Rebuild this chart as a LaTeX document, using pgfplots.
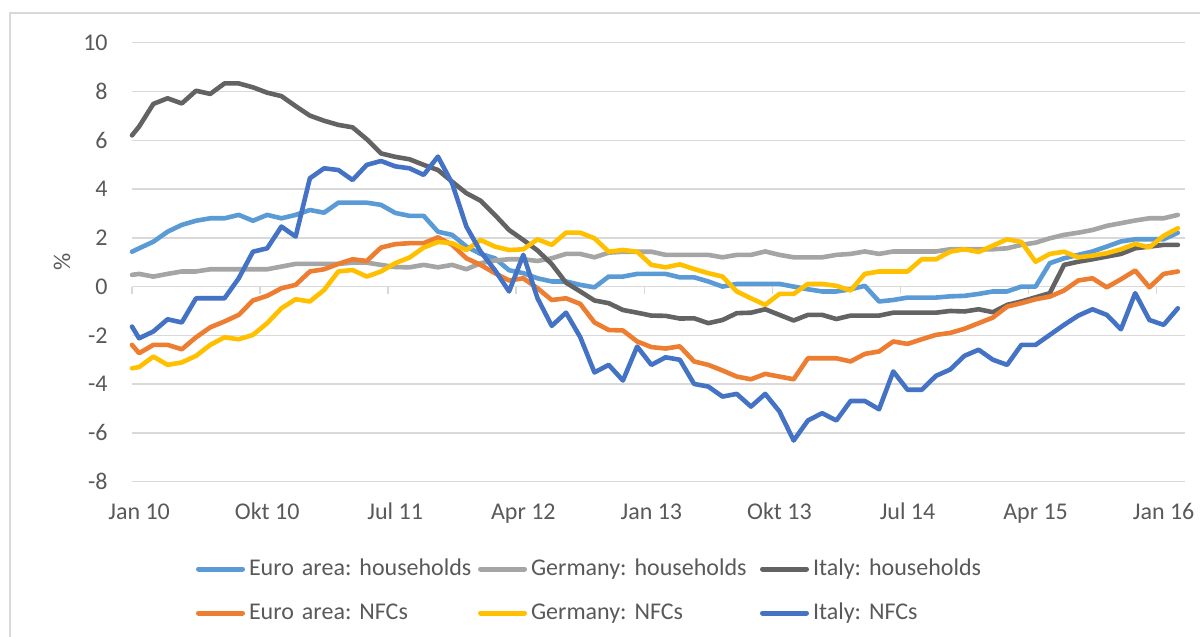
\documentclass[border=0pt]{standalone}
\usepackage{fontspec}
\setmainfont{Carlito}
\usepackage{pgfplots}
\usepackage{pgfplotstable}
\pgfplotsset{compat=1.18}
\definecolor{eah}{HTML}{5B9BD5}
\definecolor{deh}{HTML}{A5A5A5}
\definecolor{ith}{HTML}{636363}
\definecolor{ean}{HTML}{ED7D31}
\definecolor{den}{HTML}{FFC000}
\definecolor{itn}{HTML}{4472C4}
\definecolor{gridc}{HTML}{D9D9D9}
\definecolor{txt}{HTML}{595959}
\hyphenpenalty=10000
\frenchspacing

\pgfplotstableread{
x eah deh ith ean den itn
0 1.43 0.48 6.20 -2.39 -3.35 -1.64
0.5 1.57 0.52 6.56 -2.73 -3.30 -2.12
1.5 1.84 0.41 7.49 -2.39 -2.87 -1.84
2.5 2.25 0.52 7.72 -2.39 -3.21 -1.34
3.5 2.53 0.62 7.51 -2.57 -3.11 -1.47
4.5 2.70 0.62 8.03 -2.08 -2.84 -0.48
5.5 2.80 0.71 7.90 -1.67 -2.39 -0.48
6.5 2.80 0.71 8.33 -1.43 -2.08 -0.48
7.5 2.94 0.71 8.33 -1.16 -2.16 0.34
8.5 2.70 0.71 8.17 -0.57 -1.98 1.43
9.5 2.94 0.71 7.95 -0.38 -1.50 1.57
10.5 2.80 0.82 7.81 -0.07 -0.89 2.46
11.5 2.94 0.93 7.40 0.07 -0.52 2.05
12.5 3.14 0.93 7.01 0.62 -0.61 4.44
13.5 3.03 0.93 6.80 0.71 -0.14 4.85
14.5 3.44 0.93 6.63 0.93 0.62 4.78
15.5 3.44 0.98 6.53 1.12 0.68 4.37
16.5 3.44 0.98 6.04 1.05 0.41 4.99
17.5 3.35 0.89 5.46 1.60 0.62 5.15
18.5 3.02 0.80 5.32 1.74 0.96 4.93
19.5 2.90 0.79 5.22 1.78 1.19 4.85
20.5 2.90 0.89 4.99 1.78 1.60 4.58
21.5 2.25 0.79 4.78 2.02 1.83 5.33
22.5 2.12 0.89 4.30 1.71 1.78 4.23
23.5 1.64 0.71 3.83 1.16 1.50 2.46
24.5 1.34 0.96 3.52 0.89 1.91 1.43
25.5 1.16 1.07 2.94 0.55 1.64 0.68
26.5 0.67 1.12 2.32 0.25 1.50 -0.20
27.5 0.55 1.12 1.91 0.34 1.53 1.30
28.5 0.34 1.05 1.48 -0.07 1.94 -0.48
29.5 0.21 1.16 0.92 -0.55 1.71 -1.61
30.5 0.21 1.34 0.16 -0.48 2.21 -1.07
31.5 0.07 1.34 -0.20 -0.71 2.21 -2.07
32.5 -0.03 1.20 -0.57 -1.47 1.98 -3.52
33.5 0.41 1.39 -0.68 -1.78 1.43 -3.21
34.5 0.41 1.43 -0.96 -1.80 1.50 -3.85
35.5 0.52 1.43 -1.07 -2.25 1.43 -2.46
36.5 0.52 1.43 -1.19 -2.48 0.89 -3.21
37.5 0.52 1.30 -1.20 -2.54 0.79 -2.90
38.5 0.38 1.30 -1.31 -2.45 0.91 -3.00
39.5 0.38 1.30 -1.30 -3.07 0.72 -3.99
40.5 0.21 1.30 -1.50 -3.21 0.55 -4.10
41.5 0.00 1.20 -1.37 -3.44 0.41 -4.51
42.5 0.11 1.30 -1.09 -3.69 -0.20 -4.40
43.5 0.11 1.30 -1.07 -3.80 -0.48 -4.92
44.5 0.11 1.44 -0.93 -3.58 -0.75 -4.40
45.5 0.11 1.30 -1.16 -3.69 -0.30 -5.12
46.5 0.00 1.20 -1.39 -3.80 -0.30 -6.31
47.5 -0.11 1.20 -1.16 -2.94 0.11 -5.49
48.5 -0.20 1.20 -1.16 -2.94 0.11 -5.19
49.5 -0.20 1.30 -1.33 -2.94 0.03 -5.49
50.5 -0.11 1.34 -1.19 -3.07 -0.16 -4.69
51.5 0.03 1.44 -1.19 -2.76 0.52 -4.69
52.5 -0.61 1.34 -1.19 -2.66 0.62 -5.03
53.5 -0.55 1.44 -1.07 -2.25 0.62 -3.48
54.5 -0.45 1.44 -1.07 -2.35 0.62 -4.23
55.5 -0.45 1.44 -1.07 -2.16 1.12 -4.23
56.5 -0.45 1.44 -1.07 -1.98 1.12 -3.66
57.5 -0.40 1.53 -1.00 -1.90 1.43 -3.40
58.5 -0.38 1.53 -1.02 -1.73 1.53 -2.84
59.5 -0.30 1.53 -0.93 -1.50 1.42 -2.59
60.5 -0.20 1.53 -1.05 -1.27 1.68 -3.00
61.5 -0.20 1.57 -0.75 -0.82 1.94 -3.21
62.5 0.00 1.71 -0.61 -0.68 1.83 -2.39
63.5 0.00 1.80 -0.44 -0.52 1.02 -2.39
64.5 0.96 1.98 -0.27 -0.41 1.34 -1.98
65.5 1.16 2.12 0.89 -0.16 1.43 -1.57
66.5 1.30 2.21 1.02 0.25 1.20 -1.19
67.5 1.44 2.32 1.12 0.34 1.27 -0.93
68.5 1.64 2.49 1.23 -0.03 1.37 -1.16
69.5 1.85 2.60 1.34 0.30 1.53 -1.75
70.5 1.94 2.71 1.57 0.66 1.75 -0.27
71.5 1.94 2.80 1.64 -0.03 1.61 -1.37
72.5 1.94 2.80 1.71 0.52 2.08 -1.57
73.5 2.21 2.94 1.71 0.62 2.39 -0.89
}\data

\begin{document}
\begin{tikzpicture}
\useasboundingbox (0,0) rectangle (600pt,318.5pt);
\begin{scope}
\clip (0,0) rectangle (600pt,318.5pt);
\draw[gridc, line width=0.75pt] (5pt,312pt) rectangle (620pt,-20pt);
\end{scope}
\begin{axis}[
  at={(66pt,77.65pt)}, anchor=south west,
  width=526.5pt, height=219.5pt, scale only axis,
  xmin=0, xmax=74, ymin=-8, ymax=10,
  axis line style={draw=none},
  ytick={-8,-6,...,10},
  yticklabels={-8,-6,-4,-2,0,2,4,6,8,10},
  xtick={0.5,9.5,18.5,27.5,36.5,45.5,54.5,63.5,72.5},
  xticklabels={Jan 10,Okt 10,Jul 11,Apr 12,Jan 13,Okt 13,Jul 14,Apr 15,Jan 16},
  major tick length=0pt,
  ymajorgrids, grid style={gridc, line width=0.75pt},
  tick label style={font=\fontsize{12}{14}\selectfont, text=txt},
  yticklabel style={anchor=east, inner sep=0pt, xshift=-12pt},
  xticklabel style={anchor=base, inner sep=0pt, yshift=-18.75pt},
  ylabel={\%},
  ylabel style={at={(axis description cs:-0.0665,0.5)}, anchor=center, font=\fontsize{12}{14}\selectfont, text=txt},
  clip=false,
  legend columns=3, legend cell align=left,
  legend style={draw=none, fill=none, at={(axis description cs:0.0608,-0.249)}, anchor=west,
    inner sep=0pt, outer sep=0pt, row sep=10pt, column sep=0pt,
    nodes={text width=112pt, align=left, inner sep=0pt, text height=9pt, text depth=3pt,
      font=\fontsize{12}{14}\selectfont, text=txt},
    /tikz/every odd column/.append style={column sep=2pt},
    /tikz/every even column/.append style={column sep=2.5pt}},
  legend image code/.code={\draw[#1, line width=2.5pt, line cap=round] (0pt,0pt) -- (22pt,0pt);},
  every axis plot/.append style={line width=2.3pt, line join=round, line cap=round, no markers},
]
\pgfplotsinvokeforeach{0,9,18,27,36,45,54,63,72}{
  \draw[gridc, line width=0.75pt] (axis cs:#1,0) -- ([yshift=-3.5pt]axis cs:#1,0);
}
\addplot[eah] table[x=x,y=eah]{\data};
\addlegendentry{Euro area: households}
\addplot[deh] table[x=x,y=deh]{\data};
\addlegendentry{Germany: households}
\addplot[ith] table[x=x,y=ith]{\data};
\addlegendentry{Italy: households}
\addplot[ean] table[x=x,y=ean]{\data};
\addlegendentry{Euro area: NFCs}
\addplot[den] table[x=x,y=den]{\data};
\addlegendentry{Germany: NFCs}
\addplot[itn] table[x=x,y=itn]{\data};
\addlegendentry{Italy: NFCs}
\end{axis}
\end{tikzpicture}
\end{document}
